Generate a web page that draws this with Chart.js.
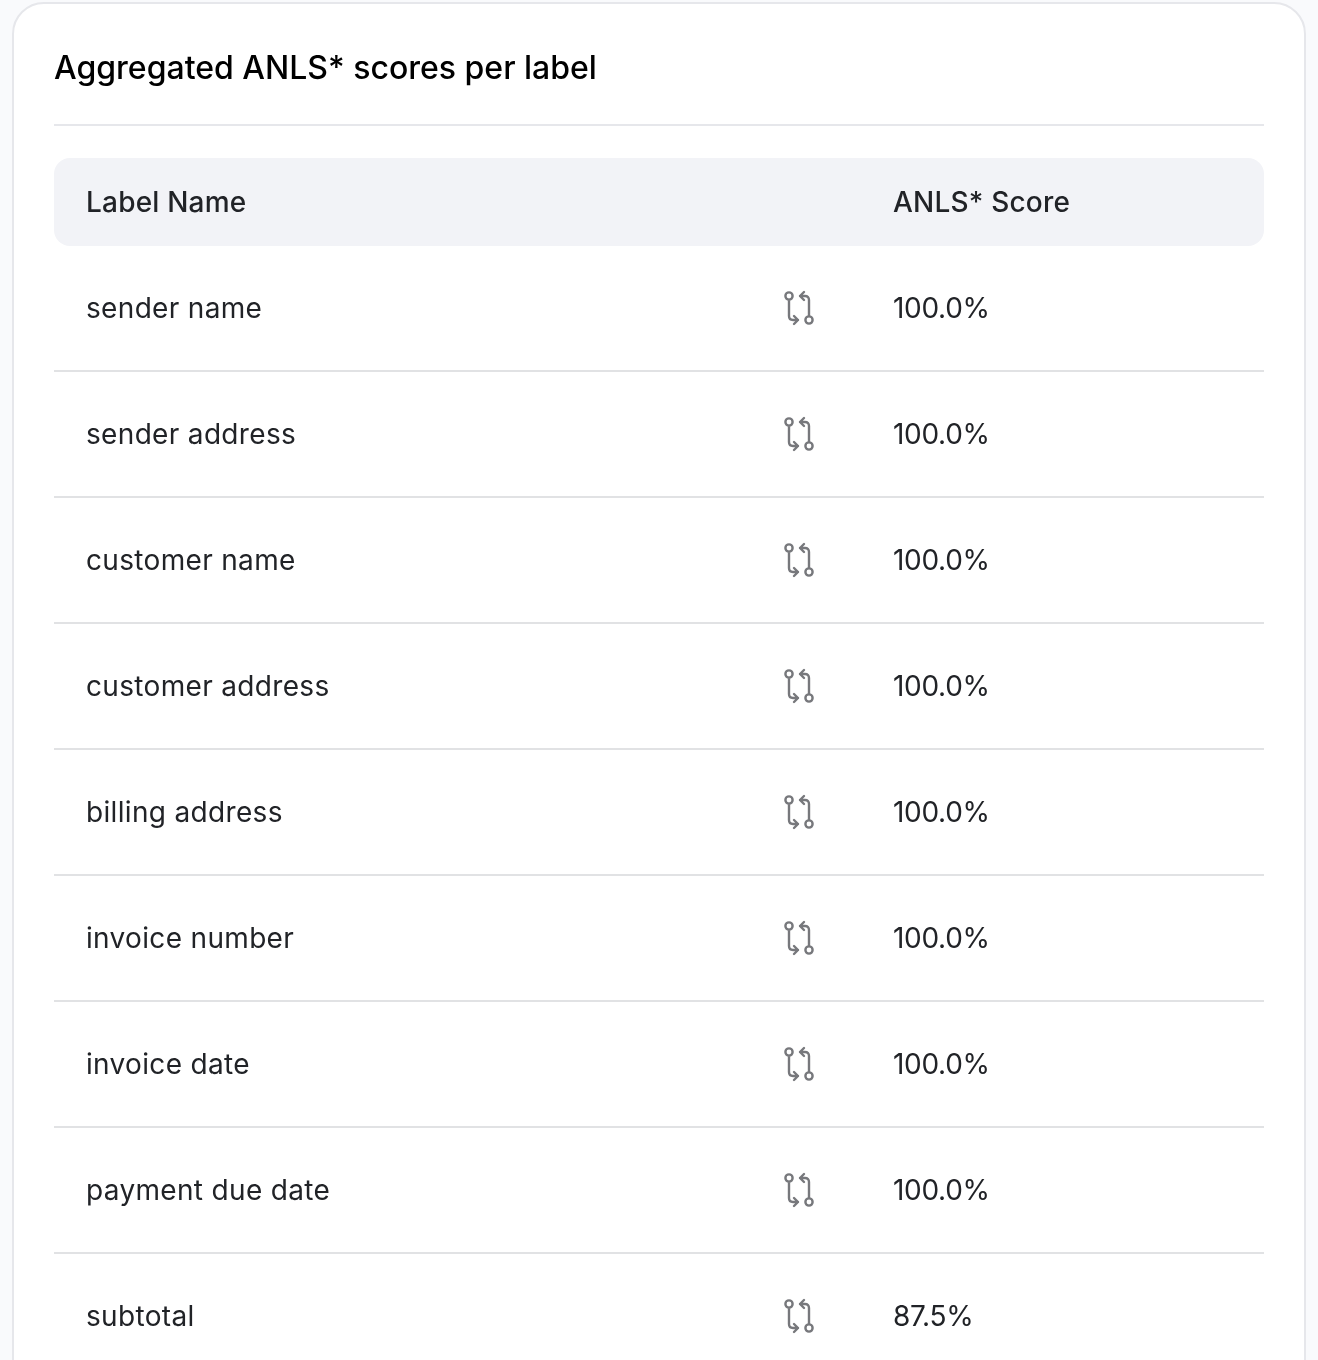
<!DOCTYPE html>
<html>
<head>
<meta charset="utf-8">
<title>Aggregated ANLS* scores per label</title>
<script src="https://cdn.jsdelivr.net/npm/chart.js@4/dist/chart.umd.min.js"></script>
<style>
html, body { margin: 0; height: 1360px; overflow: hidden; background: #f9fafc; }
#card { position: absolute; left: 12px; top: 2px; width: 1290px; height: 1420px; background: #fff; border: 2px solid #e6e7eb; border-radius: 32px; }
canvas#chart { position: absolute; left: 0; top: 0; }
</style>
</head>
<body>
<div id="card"></div>
<canvas id="chart" width="1318" height="1380"></canvas>
<script>
const titleText = 'Aggregated ANLS* scores per label';
const headers = ['Label Name', 'ANLS* Score'];
const labelNames = ['sender name', 'sender address', 'customer name', 'customer address', 'billing address', 'invoice number', 'invoice date', 'payment due date', 'subtotal'];
const scores = [100, 100, 100, 100, 100, 100, 100, 100, 87.5];

// columns, in percent of the table width
const iconCol = 61.57;
const scoreCol = 69.34;

const rowFont = '400 28px Inter';
const textColor = '#212327';
const textNudge = 2; // canvas "middle" sits a bit high

// the little "compare" icon, used as point style
function makeIcon() {
    const c = document.createElement('canvas');
    c.width = 32;
    c.height = 36;
    const g = c.getContext('2d');
    g.strokeStyle = '#77787c';
    g.lineWidth = 2.4;
    g.lineCap = 'round';
    g.lineJoin = 'round';
    g.beginPath();
    g.arc(6, 6, 3.6, 0, Math.PI * 2);
    g.moveTo(6, 10);
    g.lineTo(6, 26);
    g.quadraticCurveTo(6, 30, 10, 30);
    g.lineTo(15, 30);
    g.moveTo(11, 26);
    g.lineTo(15, 30);
    g.lineTo(11, 34);
    g.stroke();
    g.beginPath();
    g.arc(26, 30, 3.6, 0, Math.PI * 2);
    g.moveTo(26, 26);
    g.lineTo(26, 10);
    g.quadraticCurveTo(26, 6, 22, 6);
    g.lineTo(17, 6);
    g.moveTo(21, 2);
    g.lineTo(17, 6);
    g.lineTo(21, 10);
    g.stroke();
    return c;
}

// header band, title rule, header labels, row names and score column
const tablePlugin = {
    id: 'table',
    beforeDatasetsDraw(chart) {
        const { ctx, chartArea: a, scales: { x } } = chart;
        ctx.save();
        ctx.fillStyle = '#e6e7eb';
        ctx.fillRect(a.left, 124, a.width, 2);
        ctx.fillStyle = '#f2f3f7';
        ctx.beginPath();
        ctx.roundRect(a.left, a.top - 87, a.width, 88, 16);
        ctx.fill();
        ctx.font = '500 28px Inter';
        ctx.fillStyle = textColor;
        ctx.textBaseline = 'middle';
        ctx.letterSpacing = '0.2px';
        ctx.fillText(headers[0], a.left + 32, a.top - 43 + textNudge);
        ctx.fillText(headers[1], x.getPixelForValue(scoreCol), a.top - 43 + textNudge);
        ctx.restore();
    },
    afterDatasetsDraw(chart) {
        const { ctx, chartArea: a, scales: { y } } = chart;
        ctx.save();
        ctx.font = rowFont;
        ctx.fillStyle = textColor;
        ctx.textBaseline = 'middle';
        ctx.letterSpacing = '0.33px';
        labelNames.forEach((n, i) => {
            ctx.fillText(n, a.left + 32, y.getPixelForValue(i) + textNudge);
        });
        ctx.letterSpacing = '-0.3px';
        chart.getDatasetMeta(1).data.forEach((pt, i) => {
            ctx.fillText(scores[i].toFixed(1) + '%', pt.x, pt.y + textNudge);
        });
        ctx.restore();
    }
};

new Chart(document.querySelector('canvas#chart'), {
    type: 'scatter',
    data: {
        datasets: [
            {
                label: 'icon',
                data: labelNames.map(n => ({ x: iconCol, y: n })),
                pointStyle: makeIcon()
            },
            {
                label: headers[1],
                data: labelNames.map(n => ({ x: scoreCol, y: n })),
                pointRadius: 0
            }
        ]
    },
    options: {
        responsive: false,
        animation: false,
        devicePixelRatio: 1,
        layout: { autoPadding: false, padding: { left: 54, right: 54, top: 50, bottom: 1 } },
        plugins: {
            legend: { display: false },
            tooltip: { enabled: false },
            title: {
                display: true,
                text: titleText,
                align: 'start',
                color: '#000',
                font: { family: 'Inter', size: 32, weight: '500' },
                padding: { top: 0, bottom: 156.6 }
            }
        },
        scales: {
            x: { type: 'linear', min: 0, max: 100, display: false },
            y: {
                type: 'category',
                labels: labelNames,
                offset: true,
                afterFit: s => { s.width = 0; },
                border: { display: false },
                grid: {
                    offset: true,
                    drawTicks: false,
                    lineWidth: 2,
                    color: c => c.index === 0 ? 'transparent' : '#e1e2e4'
                },
                ticks: { display: false }
            }
        }
    },
    plugins: [tablePlugin]
});
</script>
</body>
</html>
